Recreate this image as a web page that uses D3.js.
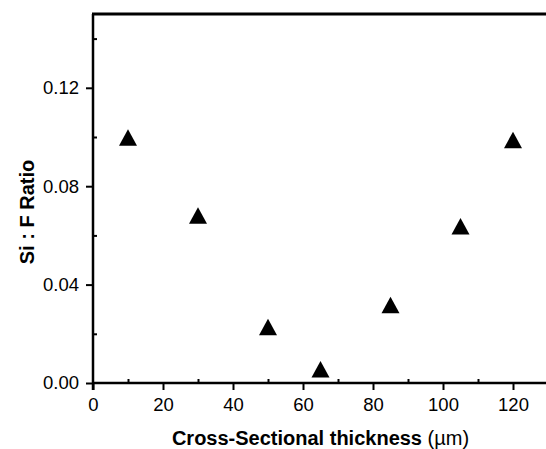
<!DOCTYPE html>
<html>
<head>
<meta charset="utf-8">
<script src="https://cdn.jsdelivr.net/npm/d3@7"></script>
<style>
  body { margin: 0; background: #fff; }
  text { font-family: "Liberation Sans", Arial, sans-serif; }
</style>
</head>
<body>
<div id="container"></div>
<script>
//Data
const thickness = [10, 30, 50, 65, 85, 105, 120];
const ratio = [0.0997, 0.0680, 0.0227, 0.0055, 0.0316, 0.0636, 0.0987];
const xTicks = [0, 20, 40, 60, 80, 100, 120];
const yTicks = [0.00, 0.04, 0.08, 0.12];

//Dimensions
const width = 546;
const height = 449;
const plotLeft = 93, plotRight = 548, plotTop = 14, plotBottom = 383;

const svg = d3.select("#container")
    .append("svg")
    .attr("width", width)
    .attr("height", height);

//Scales
const x = d3.scaleLinear().domain([0, 130]).range([plotLeft, plotRight]);
const y = d3.scaleLinear().domain([0, 0.15]).range([plotBottom, plotTop]);

//Minor ticks (inward)
svg.append("g")
    .attr("transform", `translate(0, ${plotBottom})`)
    .call(d3.axisTop(x).tickValues(d3.range(10, 130, 20)).tickSize(4).tickFormat(""))
    .call(g => g.select(".domain").remove())
    .selectAll("line").attr("stroke-width", 2);

svg.append("g")
    .attr("transform", `translate(${plotLeft}, 0)`)
    .call(d3.axisRight(y).tickValues([0.02, 0.06, 0.10, 0.14]).tickSize(4).tickFormat(""))
    .call(g => g.select(".domain").remove())
    .selectAll("line").attr("stroke-width", 2);

//X axis
const xAxis = svg.append("g")
    .attr("transform", `translate(0, ${plotBottom})`)
    .call(d3.axisBottom(x).tickValues(xTicks).tickSize(7).tickPadding(8).tickFormat(d3.format("d")));
xAxis.select(".domain").attr("d", `M${plotLeft},0H${width}`).attr("stroke-width", 2.5);
xAxis.selectAll("line").attr("stroke-width", 2);
xAxis.selectAll("text").style("font-size", "18.5px").attr("fill", "#000");

//Y axis
const yAxis = svg.append("g")
    .attr("transform", `translate(${plotLeft}, 0)`)
    .call(d3.axisLeft(y).tickValues(yTicks).tickSize(7).tickPadding(7).tickFormat(d3.format(".2f")));
yAxis.select(".domain").attr("d", `M0,${plotBottom + 7}V${plotTop}`).attr("stroke-width", 2.5);
yAxis.selectAll("line").attr("stroke-width", 2);
yAxis.selectAll("text").style("font-size", "18.5px").attr("fill", "#000");

//Top border
svg.append("line")
    .attr("x1", plotLeft - 1).attr("x2", width)
    .attr("y1", plotTop).attr("y2", plotTop)
    .attr("stroke", "#000")
    .attr("stroke-width", 3);

//Triangles
svg.append("g")
    .selectAll("path")
    .data(thickness)
    .join("path")
    .attr("transform", (d, i) => `translate(${x(d)}, ${y(ratio[i])})`)
    .attr("d", "M0,-8.5L9,8L-9,8Z")
    .attr("fill", "#000");

//Axis titles
const xTitle = svg.append("text")
    .attr("x", (plotLeft + plotRight) / 2)
    .attr("y", 445)
    .attr("text-anchor", "middle")
    .style("font-size", "20px");
xTitle.append("tspan").attr("font-weight", "bold").text("Cross-Sectional thickness ");
xTitle.append("tspan").text("(µm)");

svg.append("text")
    .attr("transform", "translate(34, 212) rotate(-90)")
    .attr("text-anchor", "middle")
    .attr("font-weight", "bold")
    .style("font-size", "20px")
    .text("Si : F Ratio");
</script>
</body>
</html>
